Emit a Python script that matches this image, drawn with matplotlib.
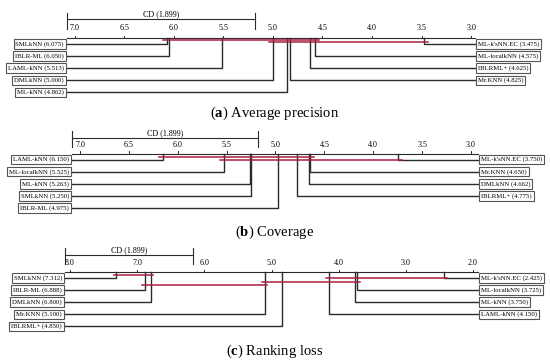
import numpy as np
import matplotlib.pyplot as plt

plt.rcParams['font.family'] = ['Liberation Serif', 'DejaVu Serif']
plt.rcParams['mathtext.fontset'] = 'custom'
plt.rcParams['mathtext.rm'] = 'Liberation Serif'
plt.rcParams['mathtext.bf'] = 'Liberation Serif:bold'

cd_value = 1.899

# (a) average precision
ap_left_names = ['SMLkNN', 'IBLR-ML', 'LAML-kNN', 'DMLkNN', 'ML-kNN']
ap_left_ranks = [6.075, 6.050, 5.513, 5.000, 4.862]
ap_right_names = ["ML-k'sNN.EC", 'ML-localkNN', 'IBLRML+', 'Mr.KNN']
ap_right_ranks = [3.475, 4.575, 4.625, 4.825]
ap_cliques = [(6.075, 4.575), (5.000, 3.475)]
ap_ticks = [7.0, 6.5, 6.0, 5.5, 5.0, 4.5, 4.0, 3.5, 3.0]

# (b) coverage
cov_left_names = ['LAML-kNN', 'ML-localkNN', 'ML-kNN', 'SMLkNN', 'IBLR-ML']
cov_left_ranks = [6.150, 5.525, 5.263, 5.250, 4.975]
cov_right_names = ["ML-k'sNN.EC", 'Mr.KNN', 'DMLkNN', 'IBLRML+']
cov_right_ranks = [3.750, 4.650, 4.662, 4.775]
cov_cliques = [(6.150, 4.650), (5.525, 3.750)]
cov_ticks = [7.0, 6.5, 6.0, 5.5, 5.0, 4.5, 4.0, 3.5, 3.0]

# (c) ranking loss
rl_left_names = ['SMLkNN', 'IBLR-ML', 'DMLkNN', 'Mr.KNN', 'IBLRML+']
rl_left_ranks = [7.312, 6.888, 6.800, 5.100, 4.850]
rl_right_names = ["ML-k'sNN.EC", 'ML-localkNN', 'ML-kNN', 'LAML-kNN']
rl_right_ranks = [2.425, 3.725, 3.750, 4.150]
rl_cliques = [(7.312, 6.800), (4.150, 2.425), (5.100, 3.725), (6.888, 5.100)]
rl_ticks = [8.0, 7.0, 6.0, 5.0, 4.0, 3.0, 2.0]

captions = ['a', 'b', 'c']
caption_texts = ['Average precision', 'Coverage', 'Ranking loss']

W, H = 550, 361
ROW = 12.1  # px per row
ink = '#2b2b2b'
red = '#a8203f'

# pixel layout for each panel
layouts = [
    dict(axis_y=38.0, x0=67, x1=475, xlim=(7.08, 2.96), cd_y=-1.53, tick_y=-0.5,
         levels=[0.17, 0.36], cap_y=113),
    dict(axis_y=153.5, x0=72, x1=478, xlim=(7.082, 2.928), cd_y=-1.28, tick_y=-0.4,
         levels=[0.3, 0.55], cap_y=232),
    dict(axis_y=272.0, x0=65, x1=478, xlim=(8.074, 1.926), cd_y=-1.4, tick_y=-0.45,
         levels=[0.25, 0.5, 0.83, 1.07], cap_y=351),
]

box = dict(boxstyle='square,pad=0.28', fc='white', ec='#555555', lw=0.8)


def draw_panel(fig, lay, left_names, left_ranks, right_names, right_ranks, cliques, ticks, tag, title):
    top = lay['axis_y'] - 2.5 * ROW
    height = 7.5 * ROW
    ax = fig.add_axes([lay['x0'] / W, 1 - (top + height) / H, (lay['x1'] - lay['x0']) / W, height / H])
    lo, hi = lay['xlim']
    ax.set_xlim(lo, hi)
    ax.set_ylim(5.0, -2.5)
    ax.axis('off')

    # scale line with ticks
    ax.plot([lo, hi], [0, 0], color=ink, lw=0.8, clip_on=False)
    for t in ticks:
        ax.plot([t, t], [0, -0.2], color=ink, lw=0.7)
        ax.text(t, lay['tick_y'], '%.1f' % t, ha='center', va='bottom', fontsize=5.8)

    # CD bar
    cy = lay['cd_y']
    ax.plot([lo, lo - cd_value], [cy, cy], color=ink, lw=0.8, clip_on=False)
    for xx in (lo, lo - cd_value):
        ax.plot([xx, xx], [cy - 0.55, cy + 0.75], color=ink, lw=0.8, clip_on=False)
    ax.text(lo - cd_value / 2, cy - 0.08, 'CD (%.3f)' % cd_value, ha='center', va='bottom', fontsize=5.8)

    # method lines + labels
    for i, (n, r) in enumerate(zip(left_names, left_ranks)):
        yy = 0.5 + i
        ax.plot([r, r, lo], [0, yy, yy], color=ink, lw=1.0, clip_on=False)
        ax.annotate('%s (%.3f)' % (n, r), xy=(lo, yy), xytext=(-2.2, 0), textcoords='offset points',
                    ha='right', va='center', fontsize=4.9, bbox=box)
    for i, (n, r) in enumerate(zip(right_names, right_ranks)):
        yy = 0.5 + i
        ax.plot([r, r, hi], [0, yy, yy], color=ink, lw=1.0, clip_on=False)
        ax.annotate('%s (%.3f)' % (n, r), xy=(hi, yy), xytext=(2.2, 0), textcoords='offset points',
                    ha='left', va='center', fontsize=4.9, bbox=box)

    # groups with no significant difference
    for (a, b), lev in zip(cliques, lay['levels']):
        ax.plot([a + 0.04, b - 0.04], [lev, lev], color=red, lw=1.1, clip_on=False, zorder=5)

    fig.text(275 / W, 1 - lay['cap_y'] / H, r'($\mathbf{%s}$) %s' % (tag, title),
             ha='center', va='center', fontsize=10.5)


fig = plt.figure(figsize=(W / 100, H / 100), dpi=100)
panels = [
    (ap_left_names, ap_left_ranks, ap_right_names, ap_right_ranks, ap_cliques, ap_ticks),
    (cov_left_names, cov_left_ranks, cov_right_names, cov_right_ranks, cov_cliques, cov_ticks),
    (rl_left_names, rl_left_ranks, rl_right_names, rl_right_ranks, rl_cliques, rl_ticks),
]
for lay, p, tag, title in zip(layouts, panels, captions, caption_texts):
    draw_panel(fig, lay, *p, tag, title)

fig.savefig('out.png', dpi=100)
